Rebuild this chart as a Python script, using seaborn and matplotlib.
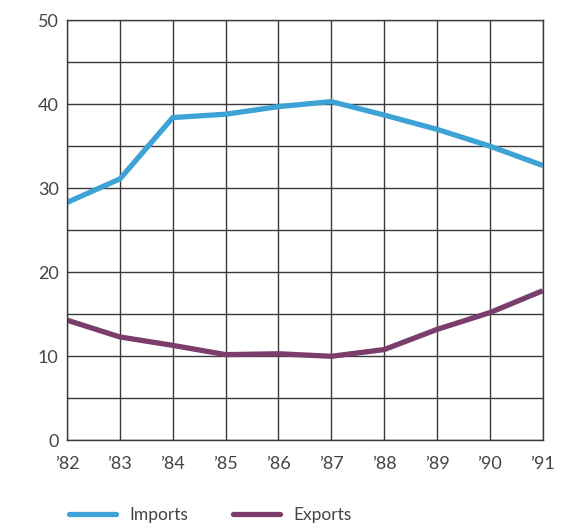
import matplotlib
matplotlib.use("Agg")
import matplotlib.pyplot as plt
import seaborn as sns
import pandas as pd

years = [82, 83, 84, 85, 86, 87, 88, 89, 90, 91]
year_labels = ["\u201982", "\u201983", "\u201984", "\u201985", "\u201986",
               "\u201987", "\u201988", "\u201989", "\u201990", "\u201991"]
imports = [28.3, 31.1, 38.4, 38.8, 39.7, 40.3, 38.7, 37.0, 35.0, 32.7]
exports = [14.3, 12.3, 11.3, 10.2, 10.3, 10.0, 10.8, 13.2, 15.2, 17.8]
series_names = ["Imports", "Exports"]
colors = ["#3DA3D6", "#7A3D6C"]

df = pd.DataFrame({
    "year": years * 2,
    "value": imports + exports,
    "series": [series_names[0]] * len(years) + [series_names[1]] * len(years),
})

sns.set_theme(style="white")
plt.rcParams["font.family"] = ["Lato", "DejaVu Sans"]

fig = plt.figure(figsize=(5.78, 5.28), dpi=100)
ax = fig.add_axes([0.116, 0.166, 0.823, 0.796])

sns.lineplot(data=df, x="year", y="value", hue="series", hue_order=series_names,
             palette=colors, linewidth=3.8, ax=ax, legend=False,
             solid_capstyle="butt", solid_joinstyle="round")

ax.set_xlim(82, 91)
ax.set_ylim(0, 50)
ax.set_xticks(years)
ax.set_xticklabels(year_labels)
ax.set_yticks([0, 10, 20, 30, 40, 50])
ax.set_yticks(range(0, 51, 5), minor=True)
ax.grid(True, which="both", color="#3a3a3a", linewidth=1.0)
ax.set_axisbelow(True)
for s in ax.spines.values():
    s.set_visible(True)
    s.set_color("#3a3a3a")
    s.set_linewidth(1.0)
ax.tick_params(axis="both", which="both", length=0, labelsize=13, labelcolor="#444444")
ax.tick_params(axis="x", pad=11)
ax.tick_params(axis="y", pad=6)
ax.set_xlabel("")
ax.set_ylabel("")

from matplotlib.lines import Line2D
handles = [Line2D([0], [0], color=c, linewidth=3.8) for c in colors]
leg = fig.legend(handles, series_names, loc="center left",
                 bbox_to_anchor=(0.093, 0.025), ncol=2, frameon=False,
                 fontsize=12.5, handlelength=2.7, columnspacing=2.6,
                 handletextpad=0.75)
for t in leg.get_texts():
    t.set_color("#444444")

fig.savefig("out.png", dpi=100, facecolor="white")
